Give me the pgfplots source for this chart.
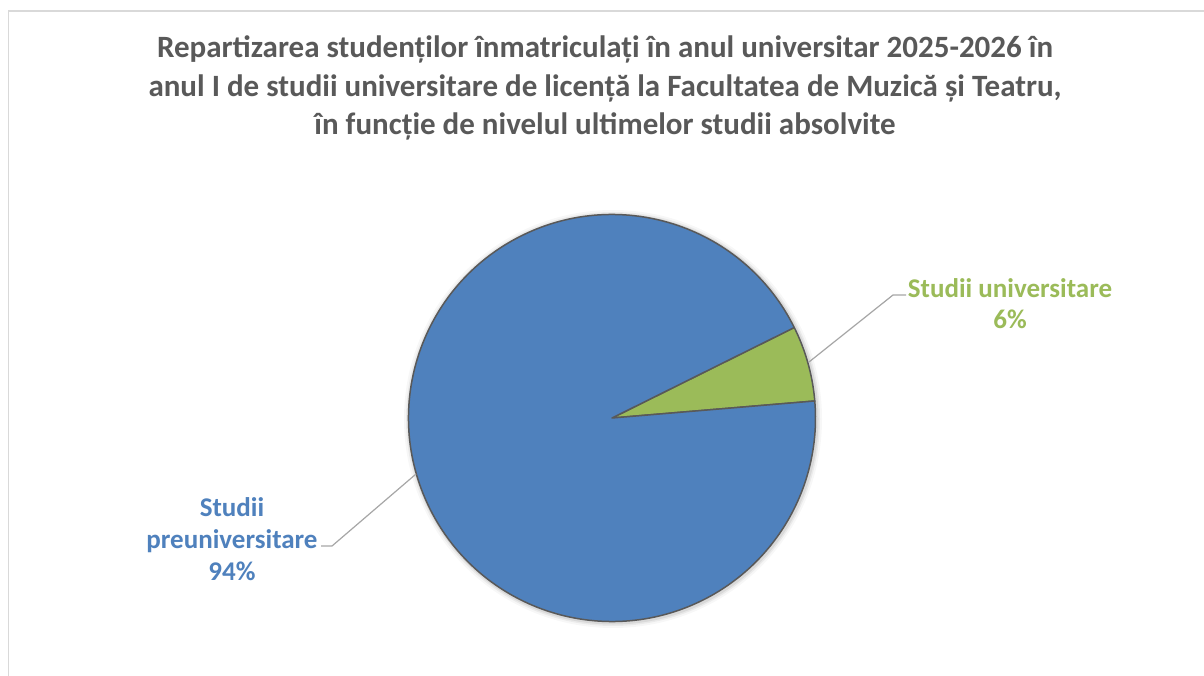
\documentclass[border=0pt]{standalone}
\usepackage{pgfplots}
\usepackage{pgfplotstable}
\pgfplotsset{compat=1.18}
\usepackage{fontspec}
\setmainfont{Carlito}
\definecolor{pieblue}{HTML}{4F81BD}
\definecolor{piegreen}{HTML}{9BBB59}
\definecolor{titlegray}{HTML}{595959}
\definecolor{edgegray}{HTML}{595959}
\definecolor{leadergray}{HTML}{A6A6A6}
\definecolor{framegray}{HTML}{D9D9D9}

\pgfplotstableread{
label value
preuniversitare 94
universitare 6
}\piedata
\pgfplotstablegetelem{0}{value}\of\piedata \let\vblue\pgfplotsretval
\pgfplotstablegetelem{1}{value}\of\piedata \let\vgreen\pgfplotsretval
\pgfmathsetmacro{\astart}{4.8}
\pgfmathsetmacro{\amid}{\astart+3.6*\vgreen}
\pgfmathsetmacro{\aend}{\amid+3.6*\vblue}

\begin{document}
\begin{tikzpicture}[x=1pt,y=1pt]
\useasboundingbox (0,0) rectangle (1204,675);
\fill[white] (0,0) rectangle (1204,675);
\draw[framegray,line width=1.5pt] (1215,664) -- (8.5,664) -- (8.5,-10);
\begin{axis}[
  at={(0,0)}, anchor=south west,
  scale only axis, width=1204pt, height=675pt,
  xmin=0, xmax=1204, ymin=0, ymax=675,
  hide axis, clip=false,
]
% soft shadow
\fill[black,opacity=0.03] (axis cs:613,256) circle[radius=209];
\fill[black,opacity=0.05] (axis cs:613,256) circle[radius=207];
\fill[black,opacity=0.07] (axis cs:613,256) circle[radius=205.5];
\filldraw[fill=piegreen,draw=edgegray,line width=1.5pt,line join=round]
  (axis cs:612,257) -- ++(\astart:203.5) arc[start angle=\astart,end angle=\amid,radius=203.5] -- cycle;
\filldraw[fill=pieblue,draw=edgegray,line width=1.5pt,line join=round]
  (axis cs:612,257) -- ++(\amid:203.5) arc[start angle=\amid,end angle=\aend,radius=203.5] -- cycle;
% leader lines
\draw[leadergray,line width=1.2pt] (axis cs:809,313) -- (axis cs:893,380) -- (axis cs:906,380);
\draw[leadergray,line width=1.2pt] (axis cs:416,201) -- (axis cs:332,129) -- (axis cs:321,129);
% labels
\node[text=piegreen,font=\fontsize{27}{31}\selectfont\bfseries,align=center] at (axis cs:1010,371.5)
  {Studii universitare\\\vgreen\%};
\node[text=pieblue,font=\fontsize{27}{32}\selectfont\bfseries,align=center] at (axis cs:232,136)
  {Studii\\preuniversitare\\\vblue\%};
% title
\node[text=titlegray,font=\fontsize{31}{38.5}\selectfont\bfseries,align=center] at (axis cs:605,587)
  {Repartizarea studenților înmatriculați în anul universitar 2025-2026 în\\
   anul I de studii universitare de licență la Facultatea de Muzică și Teatru,\\
   în funcție de nivelul ultimelor studii absolvite};
\end{axis}
\end{tikzpicture}
\end{document}
